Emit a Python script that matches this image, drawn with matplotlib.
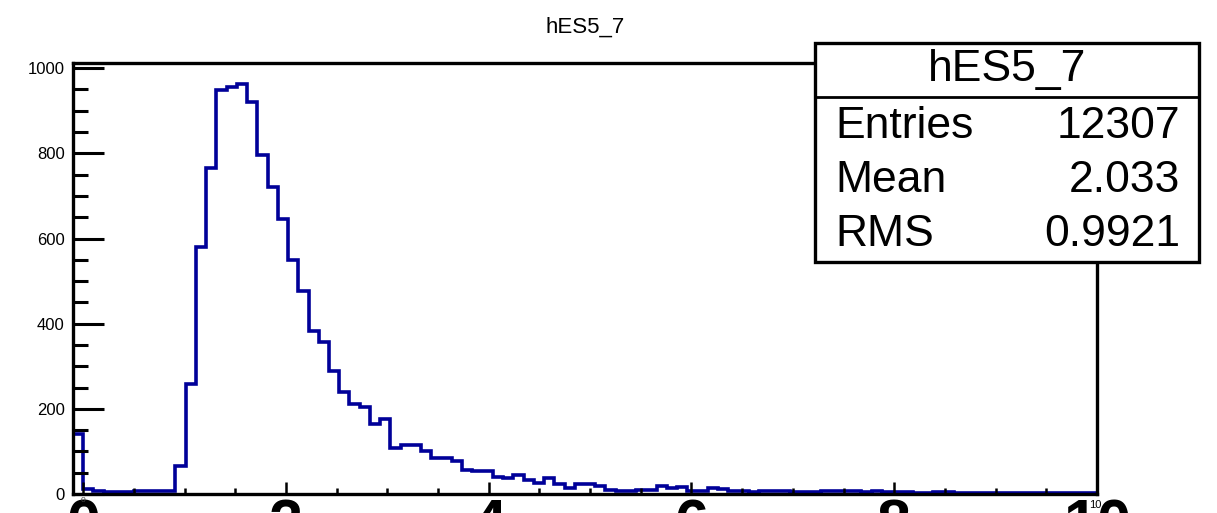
import numpy as np
import matplotlib
matplotlib.use("Agg")
import matplotlib.pyplot as plt
from matplotlib.patches import Rectangle
from matplotlib.ticker import MultipleLocator

plt.rcParams['font.family'] = ['Liberation Sans', 'DejaVu Sans']

# histogram hES5_7: 100 bins from -0.1 to 10
x_min = -0.1
x_max = 10.0
n_bins = 100
counts = [140, 12, 8, 5, 4, 4, 6, 7, 8, 8,
          65, 258, 581, 766, 948, 956, 964, 920, 796, 722,
          646, 550, 476, 382, 357, 289, 240, 211, 204, 164,
          176, 109, 115, 116, 100, 84, 84, 78, 57, 54,
          54, 41, 37, 45, 33, 27, 37, 23, 14, 23,
          23, 18, 10, 8, 6, 10, 9, 18, 15, 16,
          6, 6, 13, 12, 8, 6, 5, 7, 8, 7,
          5, 4, 5, 8, 8, 7, 7, 4, 8, 4,
          5, 5, 3, 3, 5, 5, 2, 2, 2, 2,
          2, 2, 2, 2, 2, 3, 3, 2, 2, 2]
x_ticks = [0, 2, 4, 6, 8, 10]
y_ticks = [0, 200, 400, 600, 800, 1000]
stats_names = ['Entries', 'Mean', 'RMS']
stats_values = ['12307', '2.033', '0.9921']
hist_name = 'hES5_7'

edges = np.linspace(x_min, x_max, n_bins + 1)

fig = plt.figure(figsize=(12.17, 5.13), dpi=100)
ax = fig.add_axes([73 / 1217, 1 - 494 / 513, (1097 - 73) / 1217, (494 - 63) / 513])

ax.stairs(counts, edges, baseline=0, color='#000099', lw=2.6)
ax.set_xlim(x_min, x_max)
ax.set_ylim(0, max(counts) * 1.05)

for s in ax.spines.values():
    s.set_linewidth(2.4)

ax.set_yticks(y_ticks)
ax.yaxis.set_minor_locator(MultipleLocator(50))
ax.tick_params(axis='y', which='major', direction='in', length=22, width=2.2,
               labelsize=12, pad=6)
ax.tick_params(axis='y', which='minor', direction='in', length=11, width=2.2)

ax.set_xticks(x_ticks)
ax.xaxis.set_minor_locator(MultipleLocator(0.5))
ax.tick_params(axis='x', which='major', direction='in', length=9, width=1.8,
               labelbottom=False)
ax.tick_params(axis='x', which='minor', direction='in', length=4.5, width=1.8)

# large x labels, cut off by the bottom of the picture
for t in x_ticks:
    ax.text(t, -0.01, str(t), transform=ax.get_xaxis_transform(),
            ha='center', va='top', fontsize=44, fontweight='bold')
# small stray labels
ax.text(0, -0.006, '0', transform=ax.get_xaxis_transform(),
        ha='center', va='top', fontsize=6, color='#444444')
ax.text(9.98, -0.015, '10', transform=ax.get_xaxis_transform(),
        ha='center', va='top', fontsize=8)

fig.text(585 / 1217, 1 - 27 / 513, hist_name, ha='center', va='center', fontsize=16)

# stats box
bx0, bx1 = 815 / 1217, 1199 / 1217
by0, by1 = 1 - 262 / 513, 1 - 43 / 513
sep = 1 - 97 / 513
fig.patches.append(Rectangle((bx0, by0), bx1 - bx0, by1 - by0, transform=fig.transFigure,
                             facecolor='white', edgecolor='black', lw=2.4, zorder=5))
fig.add_artist(plt.Line2D([bx0, bx1], [sep, sep], transform=fig.transFigure,
                          color='black', lw=2.0, zorder=6))
fig.text((bx0 + bx1) / 2, 1 - 70 / 513, hist_name, ha='center', va='center',
         fontsize=32, zorder=7)
row_y = [127, 180, 235]
for name, val, y in zip(stats_names, stats_values, row_y):
    fig.text(835 / 1217, 1 - y / 513, name, ha='left', va='center', fontsize=32, zorder=7)
    fig.text(1180 / 1217, 1 - y / 513, val, ha='right', va='center', fontsize=32, zorder=7)

fig.savefig('out.png', dpi=100)
